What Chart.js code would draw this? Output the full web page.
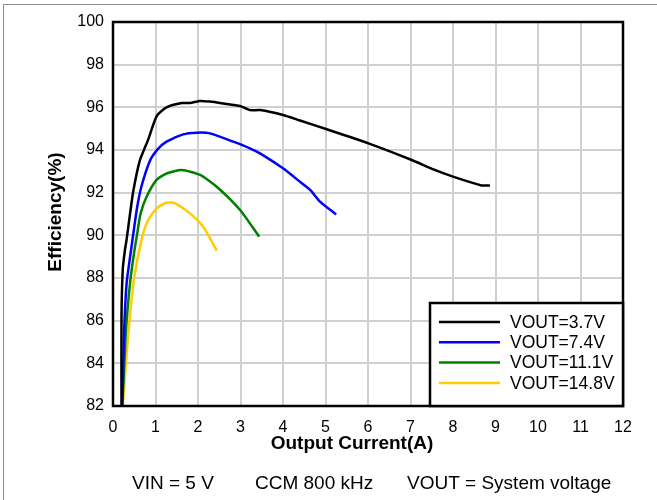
<!DOCTYPE html>
<html>
<head>
<meta charset="utf-8">
<script src="https://cdn.jsdelivr.net/npm/chart.js@4.4.1/dist/chart.umd.min.js"></script>
<style>
  body { margin: 0; background: #fff; }
  canvas { display: block; }
</style>
</head>
<body>
<canvas id="grafico" width="657" height="500"></canvas>
<script>
const etiquetas = ["VOUT=3.7V", "VOUT=7.4V", "VOUT=11.1V", "VOUT=14.8V"];
const colores = ["#000000", "#0000ff", "#008000", "#ffcc00"];

const iout37 = [0.20, 0.20, 0.23, 0.28, 0.32, 0.40, 0.48, 0.63, 0.83, 1.03, 1.26, 1.62, 1.81, 2.05, 2.28, 2.60, 2.99, 3.22, 3.46, 4.00, 4.40, 5.03, 6.01, 7.03, 7.54, 8.00, 8.67, 8.87];
const ef37 = [82.0, 86.2, 88.4, 89.3, 89.8, 91.0, 92.1, 93.5, 94.5, 95.6, 96.0, 96.2, 96.2, 96.3, 96.27, 96.18, 96.06, 95.87, 95.87, 95.64, 95.38, 94.97, 94.31, 93.53, 93.09, 92.75, 92.34, 92.34];

const iout74 = [0.22, 0.26, 0.32, 0.41, 0.49, 0.57, 0.67, 0.87, 1.06, 1.26, 1.65, 1.97, 2.28, 2.83, 3.22, 3.46, 4.00, 4.40, 4.64, 4.87, 5.25];
const ef74 = [82.0, 85.4, 87.75, 89.1, 90.25, 91.34, 92.3, 93.5, 94.05, 94.39, 94.73, 94.81, 94.78, 94.39, 94.08, 93.84, 93.14, 92.51, 92.13, 91.58, 90.98];

const iout111 = [0.22, 0.30, 0.40, 0.49, 0.57, 0.65, 0.79, 1.02, 1.26, 1.62, 2.05, 2.44, 2.99, 3.44];
const ef111 = [82.0, 85.4, 87.75, 89.1, 90.09, 91.03, 91.81, 92.59, 92.9, 93.06, 92.83, 92.28, 91.19, 89.94];

const iout148 = [0.23, 0.36, 0.48, 0.57, 0.62, 0.71, 0.83, 1.03, 1.26, 1.46, 1.81, 2.12, 2.44];
const ef148 = [82.0, 85.4, 87.75, 88.84, 89.31, 90.09, 90.72, 91.27, 91.53, 91.5, 91.03, 90.41, 89.28];

// Ejes
const xTicks = [0, 1, 2, 3, 4, 5, 6, 7, 8, 9, 10, 11, 12];
const yTicks = [82, 84, 86, 88, 90, 92, 94, 96, 98, 100];
const tituloX = "Output Current(A)";
const tituloY = "Efficiency(%)";
const notaInferior = ["VIN = 5 V", "CCM 800 kHz", "VOUT = System voltage"];

const FUENTE = "'Liberation Sans', Arial, sans-serif";

function armarPuntos(xs, ys) {
  return xs.map((x, i) => ({ x: x, y: ys[i] }));
}

const series = [
  armarPuntos(iout37, ef37),
  armarPuntos(iout74, ef74),
  armarPuntos(iout111, ef111),
  armarPuntos(iout148, ef148),
];

// Plugin para el marco, títulos, nota y leyenda dentro del área
const extras = {
  id: "extras",
  beforeDraw(chart) {
    const ctx = chart.ctx;
    ctx.save();
    ctx.fillStyle = "#fff";
    ctx.fillRect(0, 0, chart.width, chart.height);
    // borde gris exterior (solo arriba e izquierda se ven)
    ctx.strokeStyle = "#8a8a8a";
    ctx.lineWidth = 1;
    ctx.beginPath();
    ctx.moveTo(3.5, chart.height);
    ctx.lineTo(3.5, 4.5);
    ctx.lineTo(chart.width, 4.5);
    ctx.stroke();
    ctx.restore();
  },
  afterDraw(chart) {
    const ctx = chart.ctx;
    const a = chart.chartArea;
    ctx.save();

    // marco negro del área de trazado
    ctx.strokeStyle = "#000";
    ctx.lineWidth = 2.5;
    ctx.strokeRect(a.left, a.top, a.right - a.left, a.bottom - a.top);

    // títulos de los ejes
    ctx.fillStyle = "#000";
    ctx.font = "bold 19px " + FUENTE;
    ctx.textAlign = "center";
    ctx.textBaseline = "alphabetic";
    ctx.fillText(tituloX, 352, 449);

    ctx.save();
    ctx.translate(60.5, 212);
    ctx.rotate(-Math.PI / 2);
    ctx.fillText(tituloY, 0, 0);
    ctx.restore();

    // nota inferior
    ctx.font = "19px " + FUENTE;
    ctx.textAlign = "left";
    const posNota = [132, 255, 407];
    notaInferior.forEach((t, i) => ctx.fillText(t, posNota[i], 489));

    // leyenda con recuadro
    const lx = 430, ly = 303, lw = a.right - 430, lh = a.bottom - 303;
    ctx.fillStyle = "#fff";
    ctx.fillRect(lx, ly, lw, lh);
    ctx.strokeStyle = "#000";
    ctx.lineWidth = 2.5;
    ctx.strokeRect(lx, ly, lw, lh);

    ctx.font = "17.5px " + FUENTE;
    ctx.textBaseline = "middle";
    chart.data.datasets.forEach((ds, i) => {
      const y = 322 + i * 20.3;
      ctx.strokeStyle = ds.borderColor;
      ctx.lineWidth = 2.5;
      ctx.beginPath();
      ctx.moveTo(439, y);
      ctx.lineTo(500, y);
      ctx.stroke();
      ctx.fillStyle = "#000";
      ctx.fillText(ds.label, 510, y + 1);
    });

    ctx.restore();
  },
};

const ctx = document.getElementById("grafico").getContext("2d");

new Chart(ctx, {
  type: "line",
  data: {
    datasets: series.map((pts, i) => ({
      label: etiquetas[i],
      data: pts,
      borderColor: colores[i],
      backgroundColor: colores[i],
      borderWidth: 2.5,
      pointRadius: 0,
      tension: 0.2,
      fill: false,
    })),
  },
  options: {
    responsive: false,
    animation: false,
    devicePixelRatio: 1,
    layout: {
      padding: { top: 22, right: 34, left: 0, bottom: 0 },
    },
    plugins: {
      legend: { display: false },
      tooltip: { enabled: false },
    },
    scales: {
      x: {
        type: "linear",
        min: xTicks[0],
        max: xTicks[xTicks.length - 1],
        afterBuildTicks: (s) => { s.ticks = xTicks.map((v) => ({ value: v })); },
        afterFit: (s) => { s.height = 94; },
        grid: { color: "#d0d0d0", lineWidth: 2, drawTicks: false },
        border: { display: false },
        ticks: {
          color: "#000",
          padding: 12,
          font: { family: FUENTE, size: 16 },
          maxRotation: 0,
        },
      },
      y: {
        type: "linear",
        min: yTicks[0],
        max: yTicks[yTicks.length - 1],
        afterBuildTicks: (s) => { s.ticks = yTicks.map((v) => ({ value: v })); },
        afterFit: (s) => { s.width = 113; },
        grid: { color: "#d0d0d0", lineWidth: 2, drawTicks: false },
        border: { display: false },
        ticks: {
          color: "#000",
          padding: 9,
          font: { family: FUENTE, size: 16 },
        },
      },
    },
  },
  plugins: [extras],
});
</script>
</body>
</html>
